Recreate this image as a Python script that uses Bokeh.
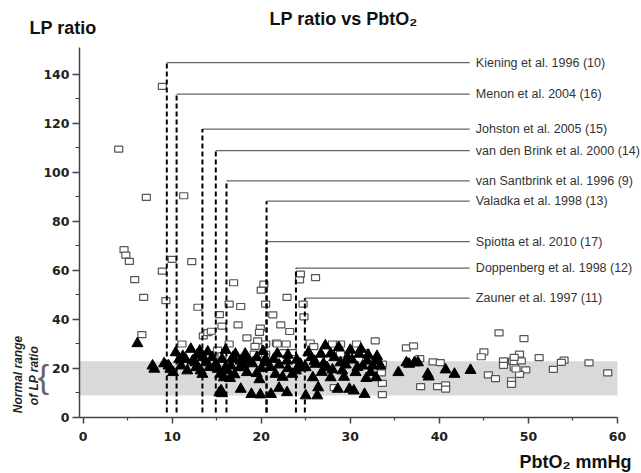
import math
from bokeh.plotting import figure
from bokeh.models import Range1d, FixedTicker, BoxAnnotation, Label
from bokeh.embed import file_html
from bokeh.resources import INLINE

# ---------------- data ----------------
study_names = [
    "Kiening et al. 1996 (10)",
    "Menon et al. 2004 (16)",
    "Johston et al. 2005 (15)",
    "van den Brink et al. 2000 (14)",
    "van Santbrink et al. 1996 (9)",
    "Valadka et al. 1998 (13)",
    "Spiotta et al. 2010 (17)",
    "Doppenberg et al. 1998 (12)",
    "Zauner et al. 1997 (11)",
]
study_pbto2 = [9.4, 10.5, 13.4, 14.9, 16.1, 20.6, 20.6, 23.9, 24.9]
study_line_lp = [144.8, 132.0, 117.7, 108.9, 96.6, 88.3, 71.8, 61.0, 48.7]

normal_lp_low = 9
normal_lp_high = 23

x_ticks = [0, 10, 20, 30, 40, 50, 60]
y_ticks = [0, 20, 40, 60, 80, 100, 120, 140]

# open squares
sq_x = [8.9, 4.0, 7.1, 11.3,
        4.6, 4.8, 5.2, 5.8, 6.8, 6.6,
        8.9, 9.3, 10.0, 12.2,
        11.1, 12.9, 13.5, 14.0, 14.4,
        15.3, 15.6, 16.9, 16.4, 17.7, 17.4, 18.4,
        20.0, 20.3, 20.5, 19.9, 19.8, 19.6, 19.3,
        21.3, 22.2, 23.2, 21.7, 22.9,
        24.4, 24.3, 26.1, 24.7, 24.8, 25.5, 25.9,
        15.1, 16.4, 21.8, 23.5, 22.8, 20.5, 22.4, 20.5, 19.2, 15.6,
        28.0, 28.9, 30.7, 32.8,
        33.5, 33.6, 33.6, 33.6, 28.2,
        31.7, 28.9,
        36.3, 37.1, 37.8, 39.3, 40.1, 37.9, 39.8, 40.7, 40.7,
        46.7, 49.5, 45.0, 44.7, 51.2, 54.0, 53.7, 56.8, 52.8, 58.9,
        49.7, 49.0, 45.5, 46.3, 48.1, 48.1,
        47.2, 48.2, 49.0, 48.4, 49.2, 48.4, 47.2, 48.4, 48.6]
sq_y = [135.1, 109.5, 89.8, 90.5,
        68.5, 66.3, 63.7, 56.3, 49.0, 33.8,
        59.7, 47.7, 64.5, 63.6,
        30.0, 45.0, 33.3, 34.6, 35.2,
        42.0, 37.3, 55.0, 46.3, 45.3, 37.8, 32.5,
        52.0, 54.4, 46.3, 36.5, 34.7, 31.3, 29.0,
        41.9, 37.8, 35.1, 30.4, 49.0,
        58.5, 56.2, 57.1, 46.3, 41.1, 30.4, 28.9,
        27.5, 30.0, 30.0, 26.5, 30.0, 30.0, 26.5, 25.9, 25.9, 25.2,
        30.0, 30.0, 30.0, 31.3,
        18.2, 21.8, 13.9, 9.3, 12.2,
        26.5, 25.9,
        28.4, 29.2, 24.0, 22.7, 22.4, 12.6, 12.6, 13.3, 11.6,
        34.5, 32.2, 26.8, 24.8, 24.4, 23.4, 22.5, 22.3, 19.6, 18.2,
        19.4, 17.6, 17.4, 15.9, 15.0, 13.5,
        23.1, 23.0, 25.9, 22.4, 23.1, 20.4, 21.3, 24.5, 19.8]

# filled triangles
tri_x = [6.1,
         7.8, 8.0, 9.1, 9.6, 9.8, 10.1, 10.4, 10.8, 11.0, 11.5, 11.7, 12.1, 12.3, 12.6, 12.7,
         13.1, 13.2, 13.4, 13.8, 14.5,
         14.9, 15.1, 15.3, 15.6, 15.5, 15.4, 15.8, 15.6, 16.0, 16.2, 16.6, 16.8, 17.1, 16.9,
         17.6, 17.7, 17.7, 18.1, 18.2, 18.6, 18.4, 18.9, 19.9, 19.5, 19.5, 20.5, 20.5, 21.1,
         21.4, 21.6, 22.0, 22.4, 22.9, 22.9, 23.5, 23.9, 24.2, 24.4, 24.6, 25.0, 25.8, 26.1,
         26.4, 26.3, 25.0, 25.6, 26.7, 27.2, 27.4, 27.8, 28.2, 28.7, 28.9, 29.1, 28.6, 29.7,
         29.9, 30.4, 30.6, 31.0, 31.2, 31.4, 31.6, 31.9, 32.3, 32.5, 32.9, 33.4, 32.9,
         35.4, 36.3, 36.6, 37.2, 37.6, 38.7, 38.8, 40.7, 41.7, 43.5,
         14.2, 17.0, 19.0, 20.0, 21.0, 22.0, 23.0, 16.5, 19.8, 18.0, 13.5, 11.2,
         26.0, 27.0, 27.8, 29.5, 30.2, 30.8, 32.0, 26.8, 29.3, 31.8, 28.0, 25.3, 30.0, 33.0,
         24.0, 23.0, 21.8, 20.2, 14.0, 12.8, 16.0]
tri_y = [30.2,
         21.1, 19.8, 22.0, 21.1, 19.8, 18.4, 26.5, 23.8, 21.1, 23.8, 19.1, 27.9, 23.1, 22.4, 20.4,
         27.2, 19.1, 17.7, 22.4, 24.5,
         21.8, 19.8, 10.2, 9.8, 11.0, 17.7, 16.3, 23.8, 20.4, 19.1, 21.1, 24.5, 25.9, 23.8,
         20.4, 11.6, 23.1, 23.8, 25.9, 23.1, 18.4, 9.5, 9.3, 24.5, 18.0, 23.8, 22.4, 9.5,
         23.8, 17.7, 12.0, 16.5, 23.1, 10.2, 17.7, 19.1, 20.4, 21.8, 20.4, 8.9, 16.3, 21.8,
         12.2, 8.9, 20.4, 24.5, 25.9, 29.3, 20.4, 16.3, 24.5, 28.6, 22.4, 19.1, 11.6, 24.5,
         11.6, 10.9, 18.4, 25.9, 27.9, 21.1, 9.5, 23.1, 18.4, 21.1, 23.1, 21.1, 16.3,
         18.4, 22.4, 21.8, 22.4, 22.4, 17.7, 16.6, 19.5, 17.7, 19.3,
         20.5, 17.5, 22.0, 20.0, 20.5, 21.5, 25.5, 16.0, 15.5, 21.5, 24.5, 25.0,
         23.0, 22.0, 26.0, 21.5, 23.5, 20.5, 25.5, 18.5, 16.5, 16.0, 19.5, 26.5, 27.5, 25.0,
         23.5, 20.0, 26.0, 27.0, 26.8, 25.5, 27.5]

# ---------------- layout ----------------
W, H = 641, 473
# axis extent in pixels of the canvas
AX_L, AX_R = 79, 617      # x axis line from x = -0.4 to 60
AX_T, AX_B = 47, 417      # y axis line from y = 151 to 0
XA0, XA1 = -0.4, 60.0
YA0, YA1 = 0.0, 151.0


def dx(px):
    return XA0 + (px - AX_L) * (XA1 - XA0) / (AX_R - AX_L)


def dy(py):
    return YA0 + (AX_B - py) * (YA1 - YA0) / (AX_B - AX_T)


p = figure(width=W, height=H, output_backend="svg", toolbar_location=None,
           x_range=Range1d(dx(0), dx(W)), y_range=Range1d(dy(H), dy(0)),
           min_border=0, min_border_left=0, min_border_right=0,
           min_border_top=0, min_border_bottom=0)
p.grid.visible = False
p.outline_line_color = None
p.background_fill_color = "white"
p.border_fill_color = "white"

# normal range band
p.add_layout(BoxAnnotation(left=XA0, right=XA1,
                           bottom=normal_lp_low, top=normal_lp_high,
                           fill_color="#d9d9d9", fill_alpha=1.0,
                           line_color=None, level="underlay"))

# squares
p.rect(sq_x, sq_y, width=8, height=6, width_units="screen", height_units="screen",
       fill_color="white", line_color="#555555", line_width=1.2)

# study threshold lines
dash_bottom = 2.0
line_end = 43.4
n = len(study_pbto2)
p.segment(x0=study_pbto2, y0=study_line_lp, x1=[line_end] * n, y1=study_line_lp,
          line_color="#666666", line_width=1.2)
p.segment(x0=study_pbto2, y0=[dash_bottom] * n, x1=study_pbto2, y1=study_line_lp,
          line_color="black", line_width=2, line_dash="5 3")

# triangles
p.scatter(tri_x, tri_y, marker="triangle", size=11, fill_color="black",
          line_color="black")

for name, lp in zip(study_names, study_line_lp):
    p.add_layout(Label(x=44.1, y=lp, text=name, text_font="Liberation Sans",
                       text_font_size="12.5px", text_color="#333333",
                       text_baseline="middle", text_align="left"))

# axes drawn at fixed data positions inside the full-canvas frame
p.xaxis.fixed_location = YA0
p.yaxis.fixed_location = XA0
p.xaxis.bounds = (XA0, XA1)
p.yaxis.bounds = (YA0, YA1)
for ax, ticks, minor, out_len, minor_len in (
        (p.xaxis[0], x_ticks, [t + 5 for t in x_ticks[:-1]], 6, 3),
        (p.yaxis[0], y_ticks, [t + 10 for t in y_ticks[:-1]], 7, 4)):
    ax.ticker = FixedTicker(ticks=ticks, minor_ticks=minor)
    ax.axis_line_color = "#444444"
    ax.axis_line_width = 1.5
    ax.major_tick_line_color = "#444444"
    ax.major_tick_line_width = 1.5
    ax.minor_tick_line_color = "#444444"
    ax.minor_tick_line_width = 1.2
    ax.major_tick_in = 0
    ax.major_tick_out = out_len
    ax.minor_tick_in = 0
    ax.minor_tick_out = minor_len
    ax.major_label_text_font = "DejaVu Sans"
    ax.major_label_text_font_style = "bold"
    ax.major_label_text_font_size = "12.5px"
    ax.major_label_text_color = "#222222"
p.xaxis.major_label_standoff = 8
p.yaxis.major_label_standoff = 3

bold = dict(text_font="Liberation Sans", text_font_style="bold",
            text_font_size="18px", text_color="#111111")
p.add_layout(Label(x=dx(29), y=dy(27.5), text="LP ratio", text_align="left",
                   text_baseline="alphabetic", **bold))
p.add_layout(Label(x=dx(343), y=dy(18.5), text="LP ratio vs PbtO\u2082",
                   text_align="center", text_baseline="alphabetic", **bold))
p.add_layout(Label(x=dx(519), y=dy(461), text="PbtO\u2082 mmHg",
                   text_align="left", text_baseline="alphabetic", **bold))

rot = dict(text_font="Liberation Sans", text_font_style="bold italic",
           text_font_size="12px", text_color="#222222", angle=math.pi / 2,
           text_align="center", text_baseline="middle")
p.add_layout(Label(x=dx(17.5), y=dy(374), text="Normal range", **rot))
p.add_layout(Label(x=dx(33), y=dy(375), text="of LP ratio", **rot))
p.add_layout(Label(x=dx(43), y=dy(375), text="{", text_font="Liberation Sans",
                   text_font_size="34px", text_color="#666666",
                   text_align="center", text_baseline="middle"))

open("out.html", "w").write(file_html(p, INLINE))
